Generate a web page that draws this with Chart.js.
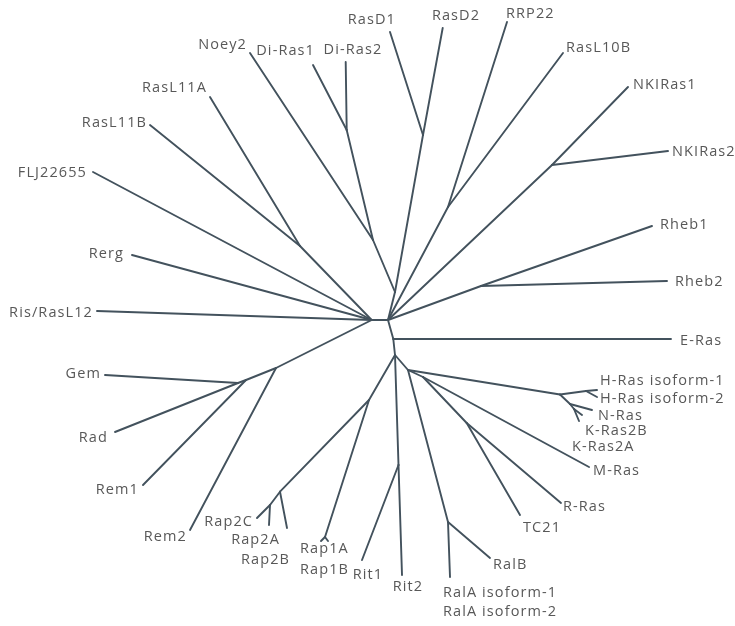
<!DOCTYPE html>
<html>
<head>
<meta charset="utf-8">
<script src="https://cdn.jsdelivr.net/npm/chart.js@4/dist/chart.umd.min.js"></script>
<style>
  html, body { margin: 0; padding: 0; background: #ffffff; }
  #wrap { width: 735px; height: 626px; position: relative; }
</style>
</head>
<body>
<div id="wrap"><canvas id="tree"></canvas></div>
<script>
// Unrooted Ras-superfamily tree. Every node has a parent (null for the
// reference node) and a position in layout units (x 0-735, y 0-626, y down).
const nodeIds = [
  'L', 'R', 'U', 'ND', 'DR', 'RD', 'RR', 'NK', 'RH', 'E', 'NL', 'RP', 'RP2', 'RP2a',
  'RP1', 'RT', 'NR', 'HR0', 'HRa', 'HRb', 'HRc', 'MR', 'TR', 'RL', 'RL11', 'GS', 'G', 'G2',
  'Noey2', 'Di-Ras1', 'Di-Ras2', 'RasD1', 'RasD2', 'RRP22', 'RasL10B', 'NKIRas1', 'NKIRas2',
  'Rheb1', 'Rheb2', 'E-Ras', 'H-Ras isoform-1', 'H-Ras isoform-2', 'N-Ras', 'K-Ras2B',
  'K-Ras2A', 'M-Ras', 'R-Ras', 'TC21', 'RalB', 'RalA', 'Rit1', 'Rit2', 'Rap1A', 'Rap1B',
  'Rap2C', 'Rap2A', 'Rap2B', 'Rem2', 'Rem1', 'Rad', 'Gem', 'Ris/RasL12', 'Rerg',
  'FLJ22655', 'RasL11B', 'RasL11A'
];
const nodeParents = [
  null, 'L', 'R', 'U', 'ND', 'U', 'R', 'R', 'R', 'R', 'E', 'NL', 'RP', 'RP2',
  'RP', 'NL', 'NL', 'NR', 'HR0', 'HR0', 'HRb', 'NR', 'MR', 'NR', 'L', 'L', 'GS', 'G',
  'ND', 'DR', 'DR', 'RD', 'RD', 'RR', 'RR', 'NK', 'NK',
  'RH', 'RH', 'E', 'HRa', 'HRa', 'HRb', 'HRc',
  'HRc', 'MR', 'TR', 'TR', 'RL', 'RL', 'RT', 'RT', 'RP1', 'RP1',
  'RP2a', 'RP2a', 'RP2', 'GS', 'G', 'G2', 'G2', 'L', 'L',
  'L', 'RL11', 'RL11'
];
const nodeX = [
  371.7, 388, 395, 373, 346.7, 423, 448, 552, 481, 393.3, 395, 369, 280, 270,
  325, 398.5, 408, 560, 586, 570, 574, 423, 466.7, 448, 300, 276, 246, 238,
  250, 313, 345.7, 390, 442.7, 507, 563, 628, 668,
  652, 667, 671, 597, 597, 592, 582,
  579, 589, 561, 520, 490, 450, 362, 402, 321, 328,
  257, 269, 287, 190, 143, 115, 105, 97, 132,
  93, 150, 210
];
const nodeY = [
  320, 320, 292, 240, 130, 135, 207, 165, 286, 339, 355, 400, 491.7, 505,
  537, 465, 370, 394.5, 391, 404, 409, 377, 423, 522, 246, 368, 380, 383,
  53, 65, 62, 32, 28, 22, 53, 87, 151,
  226, 281, 339, 390, 397, 410, 415,
  421, 467, 503, 515, 558, 577, 560, 575, 541, 541,
  518, 525, 528, 530, 485, 432, 375, 311, 255,
  172, 125, 97
];

// Leaf label texts, in drawing order
const labelTexts = [
  'Noey2', 'Di-Ras1', 'Di-Ras2', 'RasD1', 'RasD2', 'RRP22', 'RasL10B', 'NKIRas1', 'NKIRas2',
  'Rheb1', 'Rheb2', 'E-Ras', 'H-Ras isoform-1', 'H-Ras isoform-2', 'N-Ras', 'K-Ras2B',
  'K-Ras2A', 'M-Ras', 'R-Ras', 'TC21', 'RalB', 'RalA isoform-1', 'RalA isoform-2',
  'Rit2', 'Rit1', 'Rap1A', 'Rap1B', 'Rap2B', 'Rap2A', 'Rap2C', 'Rem2', 'Rem1', 'Rad',
  'Gem', 'Ris/RasL12', 'Rerg', 'FLJ22655', 'RasL11B', 'RasL11A'
];

// Label placement: [x, y, text alignment] in layout units
const labelLayout = {
  'Noey2': [247, 45, 'right'],
  'Di-Ras1': [315, 51, 'right'],
  'Di-Ras2': [353, 50, 'center'],
  'RasD1': [396, 20, 'right'],
  'RasD2': [456, 16, 'center'],
  'RRP22': [506, 14, 'left'],
  'RasL10B': [566, 48, 'left'],
  'NKIRas1': [633, 85, 'left'],
  'NKIRas2': [672, 152, 'left'],
  'Rheb1': [660, 225, 'left'],
  'Rheb2': [675, 282, 'left'],
  'E-Ras': [680, 341, 'left'],
  'H-Ras isoform-1': [600, 381, 'left'],
  'H-Ras isoform-2': [600, 399, 'left'],
  'N-Ras': [598, 416, 'left'],
  'K-Ras2B': [585, 431, 'left'],
  'K-Ras2A': [572, 447, 'left'],
  'M-Ras': [593, 471, 'left'],
  'R-Ras': [563, 507, 'left'],
  'TC21': [523, 528, 'left'],
  'RalB': [493, 565, 'left'],
  'RalA isoform-1': [443, 593, 'left'],
  'RalA isoform-2': [443, 612, 'left'],
  'Rit2': [408, 587, 'center'],
  'Rit1': [368, 575, 'center'],
  'Rap1A': [300, 549, 'left'],
  'Rap1B': [300, 570, 'left'],
  'Rap2B': [290, 560, 'right'],
  'Rap2A': [280, 540, 'right'],
  'Rap2C': [253, 522, 'right'],
  'Rem2': [187, 537, 'right'],
  'Rem1': [139, 490, 'right'],
  'Rad': [108, 438, 'right'],
  'Gem': [101, 374, 'right'],
  'Ris/RasL12': [93, 313, 'right'],
  'Rerg': [124, 254, 'right'],
  'FLJ22655': [87, 173, 'right'],
  'RasL11B': [147, 123, 'right'],
  'RasL11A': [207, 88, 'right']
};

const BRANCH_COLOR = '#43525d';
const LABEL_COLOR = '#585858';

// One two-point line dataset per branch (parent -> child)
const index = {};
nodeIds.forEach((id, i) => { index[id] = i; });
const branchSets = [];
nodeIds.forEach((id, i) => {
  const p = nodeParents[i];
  if (p === null) return;
  const j = index[p];
  branchSets.push({
    label: id,
    data: [{ x: nodeX[j], y: nodeY[j] }, { x: nodeX[i], y: nodeY[i] }],
    showLine: true,
    borderColor: BRANCH_COLOR,
    borderWidth: 1.9,
    borderCapStyle: 'round',
    pointRadius: 0,
    pointHoverRadius: 0,
    fill: false,
    tension: 0
  });
});

const leafLabels = {
  id: 'leafLabels',
  afterDatasetsDraw(chart) {
    const { ctx, scales: { x, y } } = chart;
    ctx.save();
    ctx.font = '14.5px "Open Sans"';
    if ('letterSpacing' in ctx) ctx.letterSpacing = '1.1px';
    ctx.fillStyle = LABEL_COLOR;
    ctx.textBaseline = 'middle';
    labelTexts.forEach(t => {
      const [lx, ly, align] = labelLayout[t];
      ctx.textAlign = align;
      ctx.fillText(t, x.getPixelForValue(lx), y.getPixelForValue(ly));
    });
    ctx.restore();
  }
};

new Chart(document.getElementById('tree'), {
  type: 'scatter',
  data: { datasets: branchSets },
  options: {
    responsive: true,
    maintainAspectRatio: false,
    animation: false,
    layout: { padding: 0 },
    plugins: { legend: { display: false }, tooltip: { enabled: false } },
    scales: {
      x: { type: 'linear', min: 0, max: 735, display: false },
      y: { type: 'linear', min: 0, max: 626, reverse: true, display: false }
    }
  },
  plugins: [leafLabels]
});
</script>
</body>
</html>
